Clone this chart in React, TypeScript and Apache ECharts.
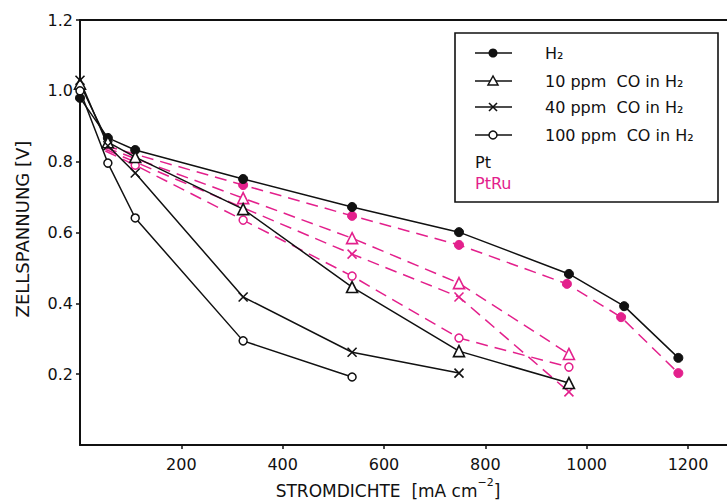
import React, { useEffect, useRef } from "react";
import * as echarts from "echarts";

const PINK = "#e3208c";
const FONT = "DejaVu Sans";

// Tick labels
const xTicks = [200, 400, 600, 800, 1000, 1200];
const yTicks = [0.2, 0.4, 0.6, 0.8, 1.0, 1.2];

// Pt (black, solid)
const ptH2X = [0, 55, 109, 322, 537, 748, 965, 1074, 1181];
const ptH2Y = [0.98, 0.867, 0.833, 0.751, 0.672, 0.601, 0.483, 0.392, 0.246];
const pt10X = [0, 55, 109, 322, 537, 748, 965];
const pt10Y = [1.02, 0.855, 0.813, 0.666, 0.446, 0.265, 0.175];
const pt40X = [0, 55, 109, 322, 537, 748];
const pt40Y = [1.03, 0.845, 0.768, 0.418, 0.262, 0.203];
const pt100X = [0, 55, 109, 322, 537];
const pt100Y = [1.0, 0.796, 0.641, 0.294, 0.192];

// PtRu (pink, dashed)
const ruH2X = [50, 322, 537, 748, 961, 1068, 1181];
const ruH2Y = [0.845, 0.734, 0.647, 0.565, 0.455, 0.361, 0.203];
const ru10X = [50, 322, 537, 748, 965];
const ru10Y = [0.84, 0.697, 0.584, 0.457, 0.257];
const ru40X = [50, 537, 748, 965];
const ru40Y = [0.835, 0.539, 0.418, 0.15];
const ru100X = [50, 109, 322, 537, 748, 965];
const ru100Y = [0.83, 0.79, 0.635, 0.477, 0.302, 0.22];

const legendLabels = ["H₂", "10 ppm  CO in H₂", "40 ppm  CO in H₂", "100 ppm  CO in H₂"];

const CROSS = "path://M0,0L10,10M10,0L0,10";

type Kind = "dot" | "tri" | "cross" | "ring";

function symbolFor(kind: Kind, color: string) {
  switch (kind) {
    case "dot":
      return { symbol: "circle", symbolSize: 9, itemStyle: { color, borderColor: color, borderWidth: 1 } };
    case "tri":
      return { symbol: "triangle", symbolSize: 11, itemStyle: { color: "#fff", borderColor: color, borderWidth: 1.6 } };
    case "cross":
      return { symbol: CROSS, symbolSize: 9, itemStyle: { color: "rgba(0,0,0,0)", borderColor: color, borderWidth: 1.6 } };
    default:
      return { symbol: "circle", symbolSize: 8, itemStyle: { color: "#fff", borderColor: color, borderWidth: 1.5 } };
  }
}

function makeSeries(name: string, xs: number[], ys: number[], kind: Kind, pink: boolean, hideFirst: boolean) {
  const color = pink ? PINK : "#111";
  const data = xs.map((x, i) =>
    hideFirst && i === 0 ? { value: [x, ys[i]], symbol: "none" } : { value: [x, ys[i]] }
  );
  return {
    name,
    type: "line",
    data,
    z: pink ? 2 : 3,
    ...symbolFor(kind, color),
    showAllSymbol: true,
    lineStyle: { color, width: 1.5, type: pink ? [12, 7] : "solid" },
  };
}

function legendSymbol(kind: Kind, cx: number, cy: number) {
  const c = "#111";
  if (kind === "dot") return { type: "circle", shape: { cx, cy, r: 4.5 }, style: { fill: c } };
  if (kind === "ring") return { type: "circle", shape: { cx, cy, r: 4 }, style: { fill: "#fff", stroke: c, lineWidth: 1.5 } };
  if (kind === "tri")
    return {
      type: "polygon",
      shape: { points: [[cx, cy - 5], [cx - 5, cy + 4], [cx + 5, cy + 4]] },
      style: { fill: "#fff", stroke: c, lineWidth: 1.5 },
    };
  return {
    type: "group",
    children: [
      { type: "line", shape: { x1: cx - 4, y1: cy - 4, x2: cx + 4, y2: cy + 4 }, style: { stroke: c, lineWidth: 1.6 } },
      { type: "line", shape: { x1: cx + 4, y1: cy - 4, x2: cx - 4, y2: cy + 4 }, style: { stroke: c, lineWidth: 1.6 } },
    ],
  };
}

export default function App() {
  const ref = useRef<HTMLDivElement>(null);
  useEffect(() => {
    const chart = echarts.init(ref.current!, null, { renderer: "svg" });
    const kinds: Kind[] = ["dot", "tri", "cross", "ring"];
    const rowsY = [53, 81, 107, 135];
    const legendEls: any[] = [
      { type: "rect", shape: { x: 455, y: 33, width: 263, height: 169 }, style: { fill: "#fff", stroke: "#111", lineWidth: 1.6 }, z: 10 },
    ];
    kinds.forEach((k, i) => {
      legendEls.push({ type: "line", shape: { x1: 475, y1: rowsY[i], x2: 512, y2: rowsY[i] }, style: { stroke: "#111", lineWidth: 1.5 }, z: 11 });
      const s: any = legendSymbol(k, 493, rowsY[i]);
      s.z = 12;
      if (s.children) s.children.forEach((ch: any) => (ch.z = 12));
      legendEls.push(s);
      legendEls.push({
        type: "text",
        x: 545,
        y: rowsY[i],
        z: 12,
        style: { text: legendLabels[i], fill: "#111", font: `16px "${FONT}"`, verticalAlign: "middle", align: "left" },
      });
    });
    legendEls.push({ type: "text", x: 475, y: 162, z: 12, style: { text: "Pt", fill: "#111", font: `16px "${FONT}"`, verticalAlign: "middle" } });
    legendEls.push({ type: "text", x: 475, y: 183, z: 12, style: { text: "PtRu", fill: PINK, font: `16px "${FONT}"`, verticalAlign: "middle" } });

    const option: any = {
      animation: false,
      backgroundColor: "#fff",
      grid: { left: 80, top: 20, right: 0, bottom: 57, containLabel: false },
      xAxis: [
        {
          type: "value",
          min: 0,
          max: 1277,
          interval: 200,
          axisLine: { show: true, lineStyle: { color: "#111", width: 2 } },
          axisTick: { show: true, length: 4, customValues: xTicks, lineStyle: { color: "#111", width: 1.5 } },
          axisLabel: {
            color: "#111",
            fontSize: 16,
            fontFamily: FONT,
            margin: 11,
            customValues: xTicks,
            formatter: (v: number) => (xTicks.includes(v) ? String(v) : ""),
          },
          splitLine: { show: false },
        },
        {
          type: "value",
          position: "top",
          min: 0,
          max: 1277,
          axisLine: { show: true, lineStyle: { color: "#111", width: 2 } },
          axisTick: { show: false },
          axisLabel: { show: false },
          splitLine: { show: false },
        },
      ],
      yAxis: {
        type: "value",
        min: 0,
        max: 1.2,
        interval: 0.2,
        axisLine: { show: true, lineStyle: { color: "#111", width: 2 } },
        axisTick: { show: true, length: 4, customValues: yTicks, lineStyle: { color: "#111", width: 1.5 } },
        axisLabel: {
          color: "#111",
          fontSize: 16,
          fontFamily: FONT,
          margin: 7,
          customValues: yTicks,
          formatter: (v: number) => {
            const t = yTicks.find((y) => Math.abs(y - v) < 1e-6);
            return t === undefined ? "" : t.toFixed(1);
          },
        },
        splitLine: { show: false },
      },
      series: [
        makeSeries("PtRu H2", ruH2X, ruH2Y, "dot", true, true),
        makeSeries("PtRu 10 ppm", ru10X, ru10Y, "tri", true, true),
        makeSeries("PtRu 40 ppm", ru40X, ru40Y, "cross", true, true),
        makeSeries("PtRu 100 ppm", ru100X, ru100Y, "ring", true, true),
        makeSeries("Pt H2", ptH2X, ptH2Y, "dot", false, false),
        makeSeries("Pt 10 ppm", pt10X, pt10Y, "tri", false, false),
        makeSeries("Pt 40 ppm", pt40X, pt40Y, "cross", false, false),
        makeSeries("Pt 100 ppm", pt100X, pt100Y, "ring", false, false),
      ],
      graphic: [
        ...legendEls,
        {
          type: "text",
          x: 388,
          y: 488,
          style: {
            text: "{n|STROMDICHTE  [mA cm}{s|−2}{n|]}",
            fill: "#111",
            align: "center",
            verticalAlign: "middle",
            rich: {
              n: { fontSize: 17, fontFamily: FONT, lineHeight: 22, verticalAlign: "bottom", fill: "#111" },
              s: { fontSize: 11, fontFamily: FONT, lineHeight: 22, verticalAlign: "top", fill: "#111" },
            },
          },
        },
        {
          type: "text",
          x: 22,
          y: 229,
          rotation: Math.PI / 2,
          style: { text: "ZELLSPANNUNG [V]", fill: "#111", font: `18px "${FONT}"`, align: "center", verticalAlign: "middle" },
        },
      ],
    };
    chart.setOption(option);
    return () => chart.dispose();
  }, []);
  return (
    <div
      ref={ref}
      style={{ position: "fixed", left: 0, top: 0, width: 727, height: 502, background: "#fff" }}
    />
  );
}
